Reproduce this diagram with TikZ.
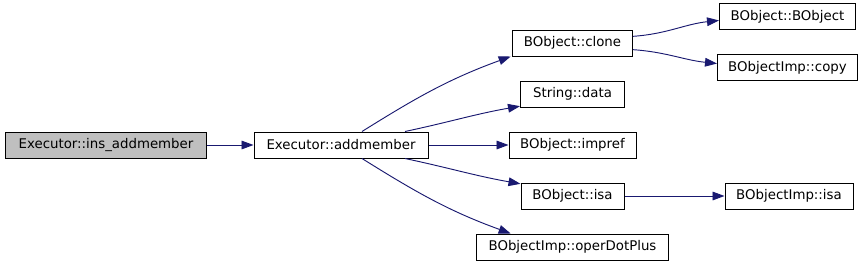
\documentclass[tikz,border=0pt]{standalone}
\usepackage{fontspec}
\setmainfont{DejaVu Sans}
\usepackage{tikz}
\usetikzlibrary{arrows.meta, positioning}
\definecolor{callblue}{RGB}{25, 25, 112}
\definecolor{rootgray}{RGB}{191, 191, 191}

\begin{document}
\begin{tikzpicture}[
        node distance=18pt,
        box/.style={draw, fill=white, line width=0.75pt, minimum height=19.5pt, inner sep=0pt,
                    font=\fontsize{10}{12}\selectfont, align=center},
        call/.style={-{Triangle[length=9pt, width=6.5pt]}, draw=callblue, line width=0.7pt}
      ]
        \useasboundingbox (-79.5pt,-90pt) rectangle (566.25pt,108.75pt);
        \node[box, fill=rootgray, minimum width=150pt] (ins) at (0,0) {Executor::ins\_addmember};
        \node[box, minimum width=130.5pt, right=35.25pt of ins] (addm) {Executor::addmember};
        \node[box, minimum width=95.25pt, right=60pt of addm] (impref) {BObject::impref};
        \node[box, minimum width=78pt, above=of impref] (data) {String::data};
        \node[box, minimum width=90pt, above=of data] (clone) {BObject::clone};
        \node[box, minimum width=77.25pt, below=of impref] (isa) {BObject::isa};
        \node[box, minimum width=144pt, below=of isa] (opdot) {BObjectImp::operDotPlus};
        \node[box, minimum width=102pt, right=64.5pt of clone, yshift=19.9pt] (ctor) {BObject::BObject};
        \node[box, minimum width=105pt, right=63pt of clone, yshift=-18.4pt] (copy) {BObjectImp::copy};
        \node[box, minimum width=96pt, right=75pt of isa] (impisa) {BObjectImp::isa};
        \draw[call] (ins) -- (addm);
        \draw[call] ([xshift=15.75pt]addm.north) to[out=32, in=200] ([xshift=-1pt]clone.south west);
        \draw[call] ([xshift=48pt]addm.north) to[out=12, in=190] ([yshift=1pt]data.south west);
        \draw[call] (addm) -- (impref);
        \draw[call] ([xshift=48pt]addm.south) to[out=-12, in=170] ([yshift=-1pt]isa.north west);
        \draw[call] ([xshift=15.75pt]addm.south) to[out=-32, in=160] ([xshift=26pt]opdot.north west);
        \draw[call] ([yshift=5pt]clone.east) to[out=4, in=186] ([yshift=-3pt]ctor.west);
        \draw[call] ([yshift=-5pt]clone.east) to[out=-4, in=174] ([yshift=3pt]copy.west);
        \draw[call] (isa) -- (impisa);
      \end{tikzpicture}
\end{document}
